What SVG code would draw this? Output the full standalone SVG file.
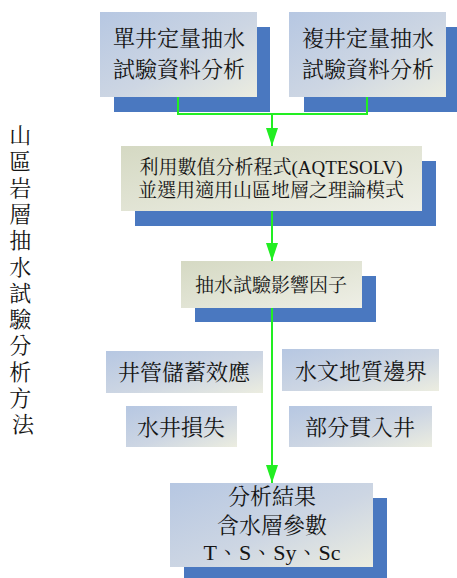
<svg xmlns="http://www.w3.org/2000/svg" width="457" height="578" viewBox="0 0 457 578">
<defs>
<linearGradient id="gBlue" x1="0" y1="0" x2="1" y2="1">
<stop offset="0" stop-color="#b6c7e2"/>
<stop offset="0.55" stop-color="#cdd6e3"/>
<stop offset="1" stop-color="#ecede0"/>
</linearGradient>
<linearGradient id="gGreen" x1="0" y1="0" x2="1" y2="1">
<stop offset="0" stop-color="#d5d9c3"/>
<stop offset="1" stop-color="#eeefe6"/>
</linearGradient>
<marker id="arr" viewBox="0 0 18 12" refX="18" refY="6" markerWidth="18" markerHeight="12" markerUnits="userSpaceOnUse" orient="auto">
<path d="M0,0 L18,6 L0,12 Z" fill="#22ee22"/>
</marker>
</defs>
<style>
.sh{fill:#4a78c0}
.fb{fill:url(#gBlue)}
.fg{fill:url(#gGreen)}
text{font-family:"Liberation Serif","Noto Serif CJK TC","Noto Sans CJK TC",serif;fill:#151515;text-anchor:middle}
.t22{font-size:22px}
.t19{font-size:19px}
.conn{fill:none;stroke:#22ee22;stroke-width:2}
</style>

<g id="title">
<text class="t22" x="23">
<tspan x="23" y="143">山</tspan>
<tspan x="23" y="169.3">區</tspan>
<tspan x="23" y="195.6">岩</tspan>
<tspan x="23" y="221.9">層</tspan>
<tspan x="23" y="248.2">抽</tspan>
<tspan x="23" y="274.5">水</tspan>
<tspan x="23" y="300.8">試</tspan>
<tspan x="23" y="327.1">驗</tspan>
<tspan x="23" y="353.4">分</tspan>
<tspan x="23" y="379.7">析</tspan>
<tspan x="23" y="406">方</tspan>
<tspan x="23" y="432.3">法</tspan>
</text>
</g>

<g id="node-single">
<rect class="sh" x="114" y="27" width="156" height="85"/>
<rect class="fb" x="100" y="12" width="157" height="85"/>
<text class="t22" x="179" y="46">單井定量抽水</text>
<text class="t22" x="179" y="77">試驗資料分析</text>
</g>

<g id="node-multi">
<rect class="sh" x="304" y="27" width="153" height="85"/>
<rect class="fb" x="289" y="12" width="157" height="85"/>
<text class="t22" x="368" y="46">複井定量抽水</text>
<text class="t22" x="368" y="77">試驗資料分析</text>
</g>

<g id="node-model">
<rect class="sh" x="135" y="161" width="301" height="65"/>
<rect class="fg" x="121" y="146" width="301" height="65"/>
<text class="t19" x="271" y="174">利用數值分析程式(AQTESOLV)</text>
<text class="t19" x="271" y="197">並選用適用山區地層之理論模式</text>
</g>

<g id="node-factors">
<rect class="sh" x="195" y="276" width="181" height="46"/>
<rect class="fg" x="181" y="261" width="181" height="47"/>
<text class="t19" x="271" y="292">抽水試驗影響因子</text>
</g>

<g id="node-wellbore">
<rect class="fb" x="106" y="351" width="157" height="42"/>
<text class="t22" x="184" y="380">井管儲蓄效應</text>
</g>

<g id="node-boundary">
<rect class="fb" x="282" y="349" width="157" height="42"/>
<text class="t22" x="361" y="379">水文地質邊界</text>
</g>

<g id="node-wellloss">
<rect class="fb" x="126" y="406" width="111" height="41"/>
<text class="t22" x="181" y="435">水井損失</text>
</g>

<g id="node-partial">
<rect class="fb" x="289" y="406" width="143" height="41"/>
<text class="t22" x="360" y="435">部分貫入井</text>
</g>

<g id="node-result">
<rect class="sh" x="184" y="498" width="203" height="80"/>
<rect class="fb" x="170" y="483" width="203" height="84"/>
<text class="t22" x="272" y="504">分析結果</text>
<text class="t22" x="272" y="533">含水層參數</text>
<text class="t22" x="272" y="560">T、S、Sy、Sc</text>
</g>

<g id="connectors">
<path class="conn" d="M178,97 V114 H367 V97"/>
<path class="conn" d="M272,114 V146" marker-end="url(#arr)"/>
<path class="conn" d="M272,211 V261" marker-end="url(#arr)"/>
<path class="conn" d="M272,308 V483" marker-end="url(#arr)"/>
</g>
</svg>
